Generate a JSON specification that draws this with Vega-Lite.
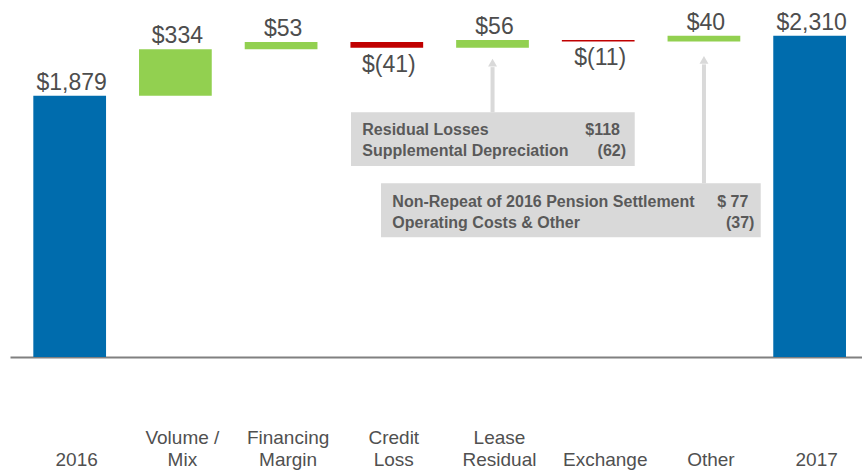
{
  "$schema": "https://vega.github.io/schema/vega-lite/v6.json",
  "width": 852,
  "height": 357,
  "autosize": {"type": "none"},
  "padding": {"left": 10, "top": 0, "right": 0, "bottom": 114},
  "background": "white",
  "config": {"view": {"stroke": null}},
  "datasets": {
    "bars": [
      {"cat": "2016", "start": 0, "end": 1879, "kind": "total", "label": "$1,879"},
      {"cat": "Volume / Mix", "start": 1879, "end": 2213, "kind": "up", "label": "$334"},
      {"cat": "Financing Margin", "start": 2213, "end": 2266, "kind": "up", "label": "$53"},
      {"cat": "Credit Loss", "start": 2266, "end": 2225, "kind": "down", "label": "$(41)"},
      {"cat": "Lease Residual", "start": 2225, "end": 2281, "kind": "up", "label": "$56"},
      {"cat": "Exchange", "start": 2281, "end": 2270, "kind": "down", "label": "$(11)"},
      {"cat": "Other", "start": 2270, "end": 2310, "kind": "up", "label": "$40"},
      {"cat": "2017", "start": 0, "end": 2310, "kind": "total", "label": "$2,310"}
    ],
    "boxes": [
      {"u1": 2.661, "u2": 5.345, "v1": 1374, "v2": 1760},
      {"u1": 2.945, "u2": 6.537, "v1": 861, "v2": 1249}
    ],
    "arrows": [
      {"u": 4, "v1": 1760, "v2": 2085, "tip": 2118},
      {"u": 6, "v1": 1249, "v2": 2105, "tip": 2138}
    ],
    "notesLeft": [
      {"u": 2.768, "v": 1597, "t": "Residual Losses"},
      {"u": 2.768, "v": 1446, "t": "Supplemental Depreciation"},
      {"u": 3.052, "v": 1081, "t": "Non-Repeat of 2016 Pension Settlement"},
      {"u": 3.052, "v": 928, "t": "Operating Costs & Other"}
    ],
    "notesRight": [
      {"u": 5.206, "v": 1597, "t": "$118"},
      {"u": 5.263, "v": 1446, "t": "(62)"},
      {"u": 6.42, "v": 1081, "t": "$ 77"},
      {"u": 6.477, "v": 928, "t": "(37)"}
    ]
  },
  "resolve": {"scale": {"x": "independent"}},
  "layer": [
    {
      "data": {"name": "bars"},
      "encoding": {
        "x": {
          "field": "cat", "type": "nominal", "sort": null,
          "scale": {"paddingInner": 0.312, "paddingOuter": 0.186, "align": 0.593},
          "axis": {
            "title": null, "ticks": false, "tickSize": 0, "labelAngle": 0,
            "domainColor": "#808080", "domainWidth": 2,
            "labelFont": "Liberation Sans", "labelFontSize": 19, "labelColor": "#505050",
            "labelBaseline": "top", "labelPadding": 71, "labelLineHeight": 22,
            "labelOffset": 7, "labelOverlap": false, "labelLimit": 0,
            "labelExpr": "datum.value == 'Volume / Mix' ? ['Volume /', 'Mix'] : (indexof(datum.value, ' ') > 0 ? split(datum.value, ' ') : ['', datum.value])"
          }
        },
        "y": {
          "field": "end", "type": "quantitative",
          "scale": {"domain": [0, 2568], "nice": false, "zero": false},
          "axis": null
        }
      },
      "layer": [
        {
          "mark": {"type": "bar"},
          "encoding": {
            "y": {"field": "start", "type": "quantitative"},
            "y2": {"field": "end"},
            "color": {
              "field": "kind", "type": "nominal",
              "scale": {"domain": ["total", "up", "down"], "range": ["#006CAD", "#92D050", "#C00000"]},
              "legend": null
            }
          }
        },
        {
          "transform": [{"filter": "datum.kind != 'down'"}],
          "mark": {"type": "text", "baseline": "alphabetic", "dy": -6, "dx": 2, "font": "Liberation Sans", "fontSize": 23, "color": "#4d4d4d"},
          "encoding": {"text": {"field": "label"}}
        },
        {
          "transform": [{"filter": "datum.kind == 'down'"}],
          "mark": {"type": "text", "baseline": "top", "dy": 6, "dx": 2, "font": "Liberation Sans", "fontSize": 23, "color": "#4d4d4d"},
          "encoding": {"text": {"field": "label"}}
        }
      ]
    },
    {
      "encoding": {},
      "layer": [
        {
          "data": {"name": "arrows"},
          "mark": {"type": "rule", "strokeWidth": 4, "color": "#D9D9D9"},
          "encoding": {
            "x": {"field": "u", "type": "quantitative", "scale": {"domain": [-0.5648, 7.495], "nice": false, "zero": false}, "axis": null},
            "y": {"field": "v1", "type": "quantitative"},
            "y2": {"field": "v2"}
          }
        },
        {
          "data": {"name": "arrows"},
          "mark": {"type": "point", "shape": "triangle-up", "filled": true, "size": 80, "color": "#D9D9D9", "opacity": 1},
          "encoding": {
            "x": {"field": "u", "type": "quantitative"},
            "y": {"field": "tip", "type": "quantitative"}
          }
        },
        {
          "data": {"name": "boxes"},
          "mark": {"type": "rect", "color": "#D9D9D9"},
          "encoding": {
            "x": {"field": "u1", "type": "quantitative"},
            "x2": {"field": "u2"},
            "y": {"field": "v1", "type": "quantitative"},
            "y2": {"field": "v2"}
          }
        },
        {
          "data": {"name": "notesLeft"},
          "mark": {"type": "text", "align": "left", "baseline": "alphabetic", "font": "Liberation Sans", "fontWeight": "bold", "fontSize": 16, "color": "#595959"},
          "encoding": {
            "x": {"field": "u", "type": "quantitative"},
            "y": {"field": "v", "type": "quantitative"},
            "text": {"field": "t"}
          }
        },
        {
          "data": {"name": "notesRight"},
          "mark": {"type": "text", "align": "right", "baseline": "alphabetic", "font": "Liberation Sans", "fontWeight": "bold", "fontSize": 16, "color": "#595959"},
          "encoding": {
            "x": {"field": "u", "type": "quantitative"},
            "y": {"field": "v", "type": "quantitative"},
            "text": {"field": "t"}
          }
        }
      ]
    }
  ]
}
